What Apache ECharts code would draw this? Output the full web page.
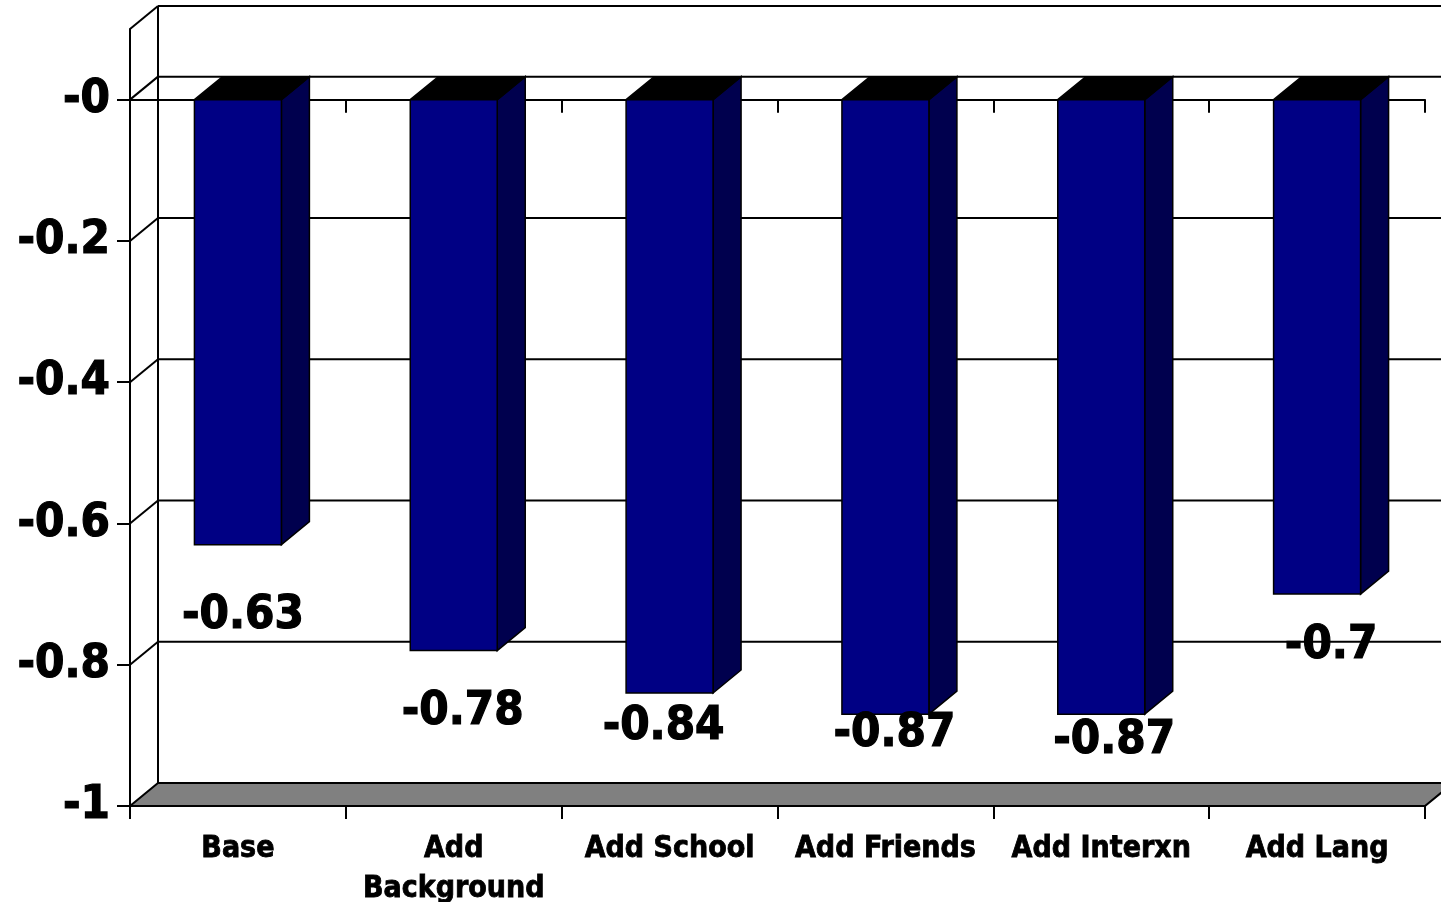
<!DOCTYPE html>
<html>
<head>
<meta charset="utf-8">
<script src="https://cdn.jsdelivr.net/npm/echarts@6/dist/echarts.min.js"></script>
<style>
  html, body { margin: 0; padding: 0; background: #ffffff; }
  #chart { width: 1441px; height: 902px; }
</style>
</head>
<body>
<div id="chart"></div>
<script>
const categories = ['Base', 'Add\nBackground', 'Add School', 'Add Friends', 'Add Interxn', 'Add Lang'];
const values = [-0.63, -0.78, -0.84, -0.87, -0.87, -0.7];
const yTickValues = [-1, -0.8, -0.6, -0.4, -0.2, 0];
const yTickLabels = ['-1', '-0.8', '-0.6', '-0.4', '-0.2', '-0'];
// hand-placed value label offsets (px) from the bottom centre of each bar's front face
const labelNudge = [[5, 71], [9, 61], [-6, 34], [9, 20], [13, 27], [14, 52]];

const Y_MIN = -1, Y_MAX = 0.1;
const DX = 28, DY = -23;          // depth of the 3-D box (back plane offset)
const BAR_RATIO = 0.403;          // front face width as share of the category band
const FONT = "'DejaVu Sans Condensed', 'DejaVu Sans', sans-serif";
const LINE = '#000000';
const LW = 2;

function tickLabel(v) {
  for (let k = 0; k < yTickValues.length; k++) {
    if (Math.abs(yTickValues[k] - v) < 1e-9) return yTickLabels[k];
  }
  return '';
}

// back wall, side wall and floor of the 3-D box
function renderWalls(params, api) {
  const cs = params.coordSys;
  const left = cs.x, right = cs.x + cs.width;
  const top = api.coord([0, Y_MAX])[1];
  const bottom = api.coord([0, Y_MIN])[1];
  const ls = { stroke: LINE, lineWidth: LW };
  const children = [];
  const line = (x1, y1, x2, y2) => children.push({
    type: 'line', shape: { x1, y1, x2, y2 }, style: ls
  });
  yTickValues.forEach(v => {
    if (v === Y_MIN) return;
    const y = api.coord([0, v])[1];
    line(left, y, left + DX, y + DY);
    line(left + DX, y + DY, right + DX, y + DY);
  });
  line(left, top, left + DX, top + DY);
  line(left + DX, top + DY, right + DX, top + DY);
  line(left + DX, top + DY, left + DX, bottom + DY);
  children.push({
    type: 'polygon',
    shape: { points: [[left, bottom], [right, bottom], [right + DX, bottom + DY], [left + DX, bottom + DY]] },
    style: { fill: '#808080', stroke: LINE, lineWidth: LW }
  });
  return { type: 'group', children };
}

function renderBar(params, api) {
  const i = api.value(0), v = api.value(1);
  const p0 = api.coord([i, 0]);
  const p1 = api.coord([i, v]);
  const w = api.size([1, 0])[0] * BAR_RATIO;
  const xl = p0[0] - w / 2, xr = p0[0] + w / 2;
  const y0 = p0[1], y1 = p1[1];
  const edge = { stroke: LINE, lineWidth: 1.5 };
  return {
    type: 'group',
    children: [
      { type: 'polygon',
        shape: { points: [[xr, y0], [xr + DX, y0 + DY], [xr + DX, y1 + DY], [xr, y1]] },
        style: Object.assign({ fill: '#00004e' }, edge) },
      { type: 'polygon',
        shape: { points: [[xl, y0], [xl + DX, y0 + DY], [xr + DX, y0 + DY], [xr, y0]] },
        style: Object.assign({ fill: '#000000' }, edge) },
      { type: 'rect',
        shape: { x: xl, y: y0, width: w, height: y1 - y0 },
        style: Object.assign({ fill: '#000084' }, edge) }
    ]
  };
}

function renderLabel(params, api) {
  const i = api.value(0), v = api.value(1);
  const p0 = api.coord([i, 0]);
  const p1 = api.coord([i, v]);
  const n = labelNudge[params.dataIndex];
  return {
    type: 'text',
    x: p0[0] + n[0],
    y: p1[1] + n[1],
    style: {
      text: String(v),
      fontFamily: FONT, fontWeight: 'bold', fontSize: 47,
      fill: '#000000', stroke: '#000000', lineWidth: 1.2,
      align: 'center', verticalAlign: 'middle'
    }
  };
}

const barData = values.map((v, i) => [i, v]);

const chart = echarts.init(document.getElementById('chart'), null, { renderer: 'canvas' });
chart.setOption({
  animation: false,
  backgroundColor: '#ffffff',
  grid: { left: 130, right: 16, top: 29, bottom: 96, containLabel: false, outerBoundsMode: 'none' },
  xAxis: [
    {
      type: 'category', data: categories, position: 'bottom',
      axisLine: { onZero: false, lineStyle: { color: LINE, width: LW } },
      axisTick: { show: true, length: 13, interval: 0, lineStyle: { color: LINE, width: LW } },
      axisLabel: {
        interval: 0, margin: 23, color: '#000000',
        fontFamily: FONT, fontWeight: 'bold', fontSize: 30, lineHeight: 40,
        textBorderColor: '#000000', textBorderWidth: 0.8
      },
      splitLine: { show: false }
    },
    {
      type: 'category', data: categories, position: 'bottom',
      axisLine: { onZero: true, lineStyle: { color: LINE, width: LW } },
      axisTick: { show: true, length: 13, interval: 0, lineStyle: { color: LINE, width: LW } },
      axisLabel: { show: false },
      splitLine: { show: false }
    }
  ],
  yAxis: {
    type: 'value', min: Y_MIN, max: Y_MAX,
    axisLine: { show: true, lineStyle: { color: LINE, width: LW } },
    axisTick: { show: true, length: 13, customValues: yTickValues, lineStyle: { color: LINE, width: LW } },
    axisLabel: {
      customValues: yTickValues, formatter: tickLabel, margin: 20, color: '#000000',
      fontFamily: FONT, fontWeight: 'bold', fontSize: 47,
      textBorderColor: '#000000', textBorderWidth: 1.2
    },
    splitLine: { show: false }
  },
  series: [
    { type: 'custom', renderItem: renderWalls, data: [[0, 0]], xAxisIndex: 0, z: 1, silent: true },
    { type: 'custom', renderItem: renderBar, data: barData, xAxisIndex: 0, encode: { x: 0, y: 1 }, z: 3 },
    { type: 'custom', renderItem: renderLabel, data: barData, xAxisIndex: 0, encode: { x: 0, y: 1 }, z: 5 }
  ]
});
</script>
</body>
</html>
